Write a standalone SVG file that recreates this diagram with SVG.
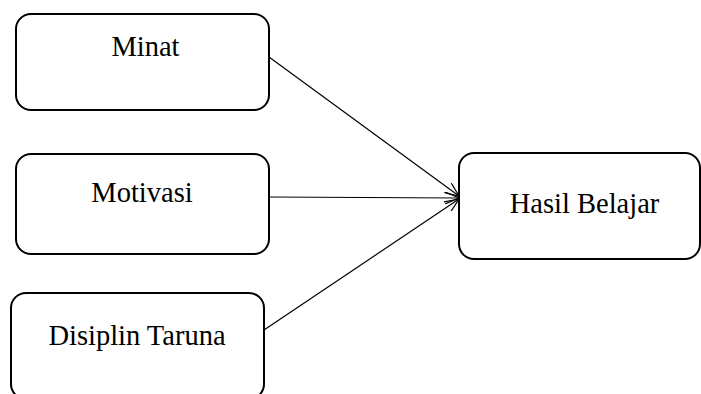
<svg xmlns="http://www.w3.org/2000/svg" width="701" height="394" viewBox="0 0 701 394">
<style>
.box{fill:#fff;stroke:#000;stroke-width:2}
.lbl{font-family:"Liberation Serif","Times New Roman",serif;font-size:28.5px;fill:#000;text-anchor:middle}
.con{stroke:#000;stroke-width:1.2;fill:none}
</style>
<defs>
<marker id="arr" viewBox="0 0 14 12" refX="14" refY="6" markerWidth="14" markerHeight="12" markerUnits="userSpaceOnUse" orient="auto">
<path d="M0,0 L14,6 L0,12" fill="none" stroke="#000" stroke-width="1.2"/>
</marker>
</defs>
<rect width="701" height="394" fill="#fff"/>
<g id="connectors">
<line class="con" x1="269" y1="57" x2="459" y2="196" marker-end="url(#arr)"/>
<line class="con" x1="269" y1="197" x2="459" y2="198" marker-end="url(#arr)"/>
<line class="con" x1="264" y1="330" x2="459" y2="199" marker-end="url(#arr)"/>
</g>
<g id="minat">
<rect class="box" x="16" y="14" width="253" height="96" rx="15"/>
<text class="lbl" x="145.5" y="56">Minat</text>
</g>
<g id="motivasi">
<rect class="box" x="16" y="154" width="253" height="100" rx="15"/>
<text class="lbl" x="142" y="202">Motivasi</text>
</g>
<g id="disiplin">
<rect class="box" x="11" y="293" width="253" height="106" rx="15"/>
<text class="lbl" x="137" y="345">Disiplin Taruna</text>
</g>
<g id="hasil">
<rect class="box" x="459" y="153" width="241" height="106" rx="15"/>
<text class="lbl" x="584.5" y="213">Hasil Belajar</text>
</g>
</svg>
